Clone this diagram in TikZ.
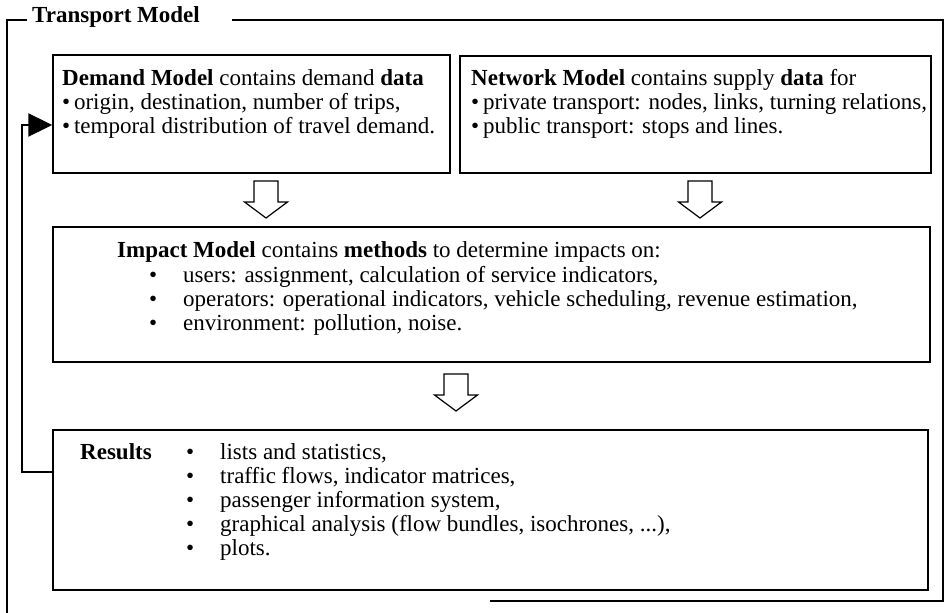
\documentclass[tikz,border=0pt]{standalone}
\usepackage{fontspec}
\setmainfont{Liberation Serif}
\usetikzlibrary{arrows.meta}
\begin{document}
\begin{tikzpicture}[x=1pt,y=-1pt,
  box/.style={draw,line width=1.4pt,inner sep=0pt},
  txt/.style={anchor=base west,inner sep=0pt,font=\fontsize{23}{24}\selectfont},
  btxt/.style={txt,font=\fontsize{23}{24}\selectfont\bfseries},
  frameline/.style={line width=2pt},
  hollow/.style={draw,line width=1.2pt,fill=white,line join=miter}]
\useasboundingbox (0,0) rectangle (945,613);
% outer frame
\node[btxt] (title) at (32,22) {Transport Model};
\draw[frameline] (27,20) -- (7,20) -- (7,613);
\draw[frameline] (232,20) -- (943,20) -- (943,601) -- (490,601);
% boxes
\node[box,minimum width=397pt,minimum height=118pt] (dem) at (251.5,114) {};
\node[box,minimum width=471pt,minimum height=117pt] (net) at (695.5,114.5) {};
\node[box,minimum width=877pt,minimum height=135pt] (imp) at (491.5,294.5) {};
\node[box,minimum width=875pt,minimum height=160pt] (res) at (490.5,510) {};
% demand text
\node[txt] (d1) at (62,85) {\textbf{Demand Model} contains demand \textbf{data}};
\node[txt] (d2) at (62,109) {•\,origin, destination, number of trips,};
\node[txt] (d3) at (62,133) {•\,temporal distribution of travel demand.};
% network text
\node[txt] (n1) at (471,85) {\textbf{Network Model} contains supply \textbf{data} for};
\node[txt] (n2) at (471,109) {•\,private transport: nodes, links, turning relations,};
\node[txt] (n3) at (471,133) {•\,public transport: stops and lines.};
% impact text
\node[txt] (i1) at (117,257) {\textbf{Impact Model} contains \textbf{methods} to determine impacts on:};
\foreach \y/\t [count=\k] in {282/{users: assignment, calculation of service indicators,},
  306/{operators: operational indicators, vehicle scheduling, revenue estimation,},
  330/{environment: pollution, noise.}}{
  \node[txt] (ib\k) at (149,\y) {•};
  \node[txt] (it\k) at (183,\y) {\t};
}
% results text
\node[btxt] (r0) at (80,459) {Results};
\foreach \y/\t [count=\k] in {459/{lists and statistics,},
  483/{traffic flows, indicator matrices,},
  507/{passenger information system,},
  531/{graphical analysis (flow bundles, isochrones, ...),},
  555/{plots.}}{
  \node[txt] (rb\k) at (186,\y) {•};
  \node[txt] (rt\k) at (220,\y) {\t};
}
% hollow arrows
\foreach \cx/\ty [count=\k] in {266/181, 700/181, 456/374}{
  \draw[hollow,shift={(\cx,\ty)}] (-12,0) -- (12,0) -- (12,21) -- (21.5,21) -- (0,37) -- (-21.5,21) -- (-12,21) -- cycle;
}
% feedback arrow
\coordinate (fbL) at (22,472);
\coordinate (fbT) at (22,125);
\draw[frameline,-{Triangle[length=24pt,width=23pt]}] (res.west |- fbL) -- (fbL) -- (fbT) -- (dem.west |- fbT);
\end{tikzpicture}
\end{document}
